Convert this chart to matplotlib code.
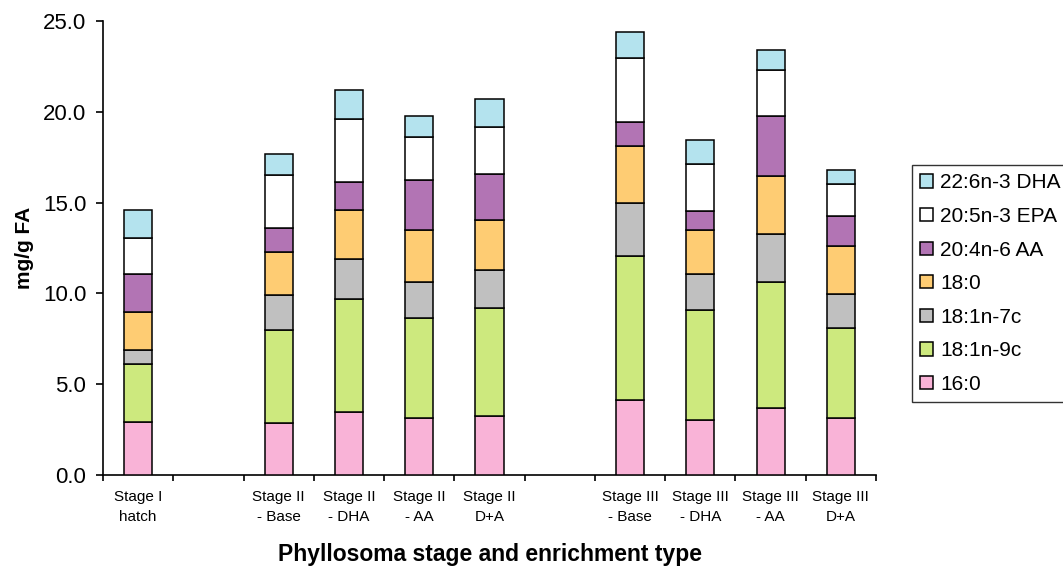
import numpy as np
import matplotlib
matplotlib.use("Agg")
import matplotlib.pyplot as plt
from matplotlib.patches import Patch

plt.rcParams["font.family"] = ["Liberation Sans", "DejaVu Sans"]

categories = ["Stage I\nhatch", "", "Stage II\n- Base", "Stage II\n- DHA", "Stage II\n- AA", "Stage II\nD+A",
              "", "Stage III\n- Base", "Stage III\n- DHA", "Stage III\n- AA", "Stage III\nD+A"]

# series values (mg/g FA), NaN for the empty slots
fa_16_0 = [2.94, np.nan, 2.85, 3.49, 3.16, 3.27, np.nan, 4.15, 3.05, 3.71, 3.16]
fa_18_1n9 = [3.19, np.nan, 5.15, 6.19, 5.50, 5.94, np.nan, 7.93, 6.05, 6.94, 4.95]
fa_18_1n7 = [0.77, np.nan, 1.90, 2.20, 1.99, 2.10, np.nan, 2.88, 1.99, 2.64, 1.87]
fa_18_0 = [2.09, np.nan, 2.40, 2.73, 2.86, 2.75, np.nan, 3.17, 2.42, 3.19, 2.65]
fa_aa = [2.10, np.nan, 1.32, 1.54, 2.75, 2.53, np.nan, 1.32, 1.01, 3.31, 1.65]
fa_epa = [1.96, np.nan, 2.88, 3.44, 2.34, 2.55, np.nan, 3.53, 2.62, 2.53, 1.76]
fa_dha = [1.57, np.nan, 1.19, 1.63, 1.19, 1.55, np.nan, 1.43, 1.32, 1.10, 0.77]

series_names = ["16:0", "18:1n-9c", "18:1n-7c", "18:0", "20:4n-6 AA", "20:5n-3 EPA", "22:6n-3 DHA"]
series = [fa_16_0, fa_18_1n9, fa_18_1n7, fa_18_0, fa_aa, fa_epa, fa_dha]
colors = ["#F9B3D7", "#CDE97E", "#C0C0C0", "#FECC73", "#B274B4", "#FFFFFF", "#B4E3EE"]

fig = plt.figure(figsize=(10.63, 5.66), dpi=100)
ax = fig.add_axes([103 / 1063, 91 / 566, 773 / 1063, 454 / 566])

x = np.arange(len(categories))
has_bar = ~np.isnan(np.array(fa_16_0))
bottom = np.zeros(len(categories))
handles = []
for name, vals, c in zip(series_names, series, colors):
    v = np.nan_to_num(np.array(vals, dtype=float))
    # skip the empty slots so no zero-height outline is drawn
    ax.bar(x[has_bar], v[has_bar], width=0.4, bottom=bottom[has_bar], color=c,
           edgecolor="black", linewidth=1.1, zorder=3)
    bottom += v
    handles.append(Patch(facecolor=c, edgecolor="black", linewidth=1.1, label=name))

ax.set_xlim(-0.5, len(categories) - 0.5)
ax.set_ylim(0, 25)
ax.set_yticks(np.arange(0, 25.1, 5))
ax.set_yticklabels(["%.1f" % t for t in np.arange(0, 25.1, 5)], fontsize=16)
ax.set_xticks(x)
ax.set_xticklabels(categories, fontsize=11, linespacing=1.5)
ax.set_xticks(np.arange(-0.5, len(categories)), minor=True)
ax.tick_params(axis="x", which="major", length=0, pad=11)
ax.tick_params(axis="x", which="minor", length=4, width=1.2, direction="out")
ax.tick_params(axis="y", length=5, width=1.2, direction="out", pad=7)

for s in ["top", "right"]:
    ax.spines[s].set_visible(False)
for s in ["left", "bottom"]:
    ax.spines[s].set_linewidth(1.2)

ax.set_ylabel("mg/g FA", fontsize=15, fontweight="bold")
ax.yaxis.set_label_coords(-0.089, 0.5)
ax.set_xlabel("Phyllosoma stage and enrichment type", fontsize=16.5, fontweight="bold", labelpad=13.5)

leg = fig.legend(handles=handles[::-1], loc="upper left", bbox_to_anchor=(912 / 1063, 1 - 165 / 566),
                 fontsize=15, frameon=True, fancybox=False, edgecolor="black", borderpad=0.4,
                 handlelength=0.6, handleheight=0.6, handletextpad=0.35, labelspacing=0.7,
                 borderaxespad=0)
leg.get_frame().set_linewidth(1.0)

fig.savefig("out.png", dpi=100)
